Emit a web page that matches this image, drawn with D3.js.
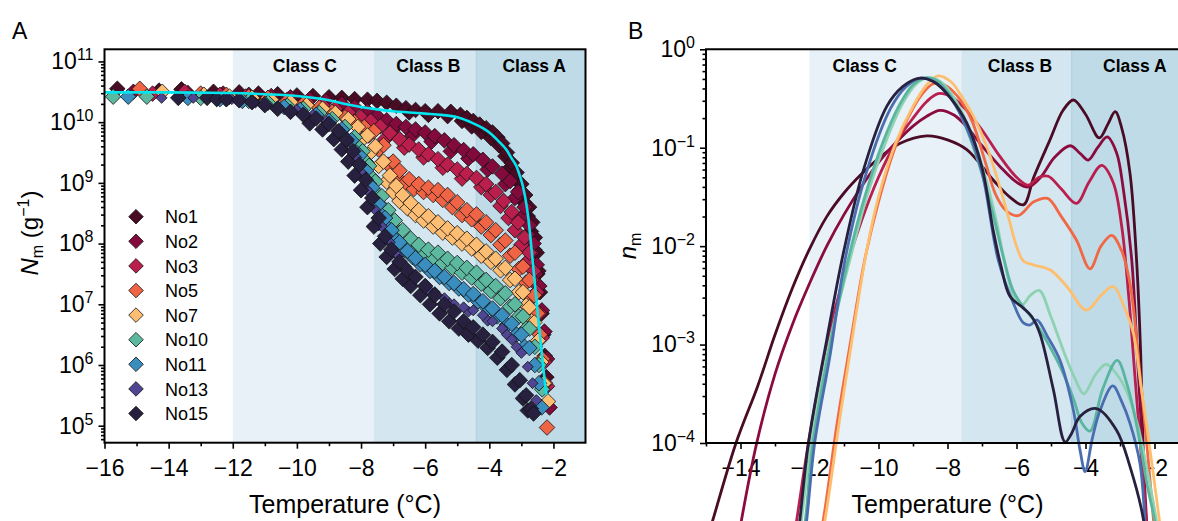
<!DOCTYPE html>
<html>
<head>
<meta charset="utf-8">
<script src="https://cdn.jsdelivr.net/npm/d3@7"></script>
<style>
  body { margin: 0; background: #fff; }
  svg { display: block; }
  text { font-family: Arial, "Liberation Sans", Helvetica, sans-serif; fill: #000; }
</style>
</head>
<body>
<svg id="chart" width="1178" height="521"></svg>
<script>
// ---------- data ----------
const seriesNames = ["No1", "No2", "No3", "No5", "No7", "No10", "No11", "No13", "No15"];
const markerColors = ["#4a0b25", "#820a3c", "#b91e4c", "#ef6445", "#fdbe74", "#5cb9a0", "#3a8dbf", "#4f4593", "#28203f"];
const lineColors = ["#4a0b25", "#8a0c3e", "#b91e4c", "#f06944", "#fdbf6f", "#8ed2b2", "#5ab5a0", "#4a6db0", "#27203f"];

const classNames = ["Class C", "Class B", "Class A"];
const classBounds = [[-12, -7.6], [-7.6, -4.4], [-4.4, -1]];

// panel A : [temperature, log10 Nm], first run
const nmNo1 = [[-15.6,10.55],[-14.3,10.52],[-13.6,10.54],[-12.6,10.5],[-11.8,10.49],[-11.2,10.47],[-10.6,10.46],[-10.0,10.44],[-9.5,10.43],[-9.0,10.41],[-8.6,10.4],[-8.2,10.38],[-7.8,10.37],[-7.5,10.35],[-7.2,10.32],[-6.9,10.27],[-6.6,10.23],[-6.3,10.2],[-6.0,10.18],[-5.6,10.18],[-5.2,10.17],[-4.9,10.12],[-4.7,10.07],[-4.5,10.02],[-4.3,9.96],[-4.1,9.9],[-3.9,9.83],[-3.75,9.75],[-3.6,9.65],[-3.45,9.5],[-3.3,9.33],[-3.15,9.17],[-3.0,8.98],[-2.88,8.8],[-2.76,8.6],[-2.66,8.35],[-2.58,8.1],[-2.52,7.85],[-2.47,7.55],[-2.42,7.2],[-2.37,6.85],[-2.32,6.5],[-2.27,6.15],[-2.22,5.8]];
const nmNo2 = [[-15.1,10.5],[-13.4,10.48],[-12.3,10.47],[-11.5,10.45],[-10.8,10.43],[-10.2,10.41],[-9.6,10.38],[-9.1,10.35],[-8.6,10.3],[-8.2,10.25],[-7.8,10.18],[-7.5,10.1],[-7.2,10.03],[-6.9,9.97],[-6.6,9.92],[-6.3,9.88],[-6.0,9.83],[-5.7,9.77],[-5.4,9.7],[-5.1,9.62],[-4.8,9.54],[-4.5,9.47],[-4.2,9.38],[-3.9,9.27],[-3.6,9.15],[-3.35,9.03],[-3.1,8.85],[-2.9,8.6],[-2.75,8.3],[-2.62,8.0],[-2.52,7.65],[-2.44,7.3],[-2.36,6.9],[-2.28,6.55],[-2.2,6.1],[-2.12,5.3]];
const nmNo3 = [[-14.5,10.47],[-13.5,10.5],[-12.4,10.45],[-11.6,10.42],[-10.9,10.4],[-10.3,10.37],[-9.7,10.33],[-9.2,10.28],[-8.8,10.22],[-8.4,10.16],[-8.0,10.08],[-7.7,10.02],[-7.4,9.93],[-7.1,9.82],[-6.8,9.72],[-6.5,9.63],[-6.2,9.55],[-5.9,9.47],[-5.6,9.39],[-5.3,9.3],[-5.0,9.22],[-4.7,9.15],[-4.4,9.08],[-4.1,8.98],[-3.8,8.85],[-3.55,8.7],[-3.3,8.52],[-3.1,8.35],[-2.9,8.1],[-2.75,7.85],[-2.62,7.55],[-2.52,7.2],[-2.44,6.85],[-2.36,6.45],[-2.28,6.05],[-2.2,5.65]];
const nmNo5 = [[-14.9,10.55],[-13.0,10.47],[-12.2,10.45],[-11.5,10.42],[-10.9,10.4],[-10.3,10.35],[-9.8,10.3],[-9.3,10.24],[-8.9,10.17],[-8.5,10.08],[-8.2,10.0],[-7.9,9.92],[-7.6,9.85],[-7.3,9.62],[-7.0,9.35],[-6.8,9.2],[-6.5,9.06],[-6.2,8.98],[-5.9,8.92],[-5.6,8.88],[-5.3,8.8],[-5.0,8.68],[-4.7,8.55],[-4.4,8.48],[-4.1,8.35],[-3.8,8.22],[-3.5,8.05],[-3.2,7.85],[-2.95,7.62],[-2.75,7.4],[-2.6,7.15],[-2.5,6.85],[-2.42,6.5],[-2.34,6.1],[-2.26,5.7],[-2.2,4.97]];
const nmNo7 = [[-14.2,10.5],[-12.9,10.45],[-12.1,10.42],[-11.4,10.4],[-10.8,10.37],[-10.2,10.33],[-9.7,10.28],[-9.2,10.22],[-8.8,10.15],[-8.4,10.05],[-8.1,9.92],[-7.8,9.78],[-7.55,9.6],[-7.3,9.35],[-7.1,9.12],[-6.9,8.95],[-6.7,8.8],[-6.45,8.67],[-6.2,8.55],[-5.9,8.45],[-5.6,8.35],[-5.3,8.25],[-5.0,8.17],[-4.7,8.08],[-4.4,7.98],[-4.1,7.87],[-3.8,7.75],[-3.5,7.6],[-3.2,7.42],[-2.95,7.2],[-2.75,6.95],[-2.6,6.7],[-2.48,6.4],[-2.38,6.05],[-2.3,5.7],[-2.17,5.4]];
const nmNo10 = [[-15.73,10.42],[-14.68,10.42],[-13.0,10.4],[-12.2,10.38],[-11.5,10.35],[-10.9,10.32],[-10.3,10.27],[-9.8,10.22],[-9.3,10.15],[-8.9,10.05],[-8.5,9.92],[-8.2,9.75],[-7.95,9.52],[-7.75,9.28],[-7.55,9.02],[-7.35,8.78],[-7.15,8.55],[-6.95,8.38],[-6.7,8.22],[-6.45,8.08],[-6.2,7.98],[-5.9,7.9],[-5.6,7.85],[-5.3,7.75],[-5.0,7.68],[-4.7,7.6],[-4.4,7.52],[-4.1,7.4],[-3.8,7.3],[-3.5,7.18],[-3.2,7.0],[-2.95,6.8],[-2.75,6.6],[-2.58,6.3],[-2.45,6.0],[-2.35,5.6]];
const nmNo11 = [[-15.26,10.42],[-13.4,10.4],[-12.4,10.38],[-11.7,10.35],[-11.0,10.3],[-10.4,10.25],[-9.9,10.2],[-9.4,10.12],[-9.0,10.02],[-8.6,9.88],[-8.3,9.7],[-8.05,9.45],[-7.85,9.2],[-7.65,8.92],[-7.45,8.65],[-7.25,8.42],[-7.05,8.22],[-6.8,8.02],[-6.55,7.88],[-6.3,7.76],[-6.0,7.65],[-5.7,7.55],[-5.4,7.45],[-5.1,7.35],[-4.8,7.25],[-4.5,7.17],[-4.2,7.05],[-3.9,6.93],[-3.6,6.82],[-3.3,6.68],[-3.0,6.5],[-2.75,6.28],[-2.58,6.0],[-2.45,5.7],[-2.37,5.3]];
const nmNo13 = [[-14.22,10.4],[-13.23,10.4],[-12.03,10.38],[-11.3,10.32],[-10.6,10.26],[-10.0,10.2],[-9.5,10.12],[-9.1,10.02],[-8.7,9.88],[-8.4,9.68],[-8.15,9.42],[-7.95,9.15],[-7.75,8.85],[-7.55,8.55],[-7.35,8.28],[-7.1,8.02],[-6.85,7.8],[-6.6,7.62],[-6.3,7.46],[-6.0,7.33],[-5.7,7.2],[-5.4,7.1],[-5.1,7.0],[-4.8,6.95],[-4.5,6.9],[-4.2,6.82],[-3.9,6.72],[-3.6,6.6],[-3.3,6.42],[-3.0,6.2],[-2.8,5.97],[-2.65,5.7],[-2.53,5.42]];
const nmNo15 = [[-13.7,10.4],[-12.8,10.4],[-12.5,10.38],[-12.2,10.38],[-11.8,10.36],[-11.4,10.33],[-11.0,10.28],[-10.6,10.22],[-10.2,10.17],[-9.8,10.12],[-9.4,10.06],[-9.0,9.97],[-8.7,9.85],[-8.45,9.71],[-8.25,9.52],[-8.05,9.3],[-7.85,9.05],[-7.65,8.75],[-7.45,8.42],[-7.25,8.12],[-7.05,7.9],[-6.8,7.7],[-6.55,7.55],[-6.3,7.45],[-6.0,7.3],[-5.7,7.15],[-5.4,7.0],[-5.1,6.88],[-4.8,6.72],[-4.5,6.62],[-4.2,6.5],[-3.9,6.38],[-3.6,6.22],[-3.3,6.0],[-3.05,5.75],[-2.85,5.5],[-2.7,5.28],[-2.62,5.2]];

// panel A : second run of each sample (decline part)
const nmNo1b = [[-6.5,10.16],[-5.9,10.12],[-5.3,10.1],[-4.85,10.02],[-4.55,9.93],[-4.25,9.84],[-3.95,9.74],[-3.7,9.62],[-3.5,9.44],[-3.35,9.25],[-3.2,9.07],[-3.05,8.88],[-2.92,8.68],[-2.8,8.45],[-2.7,8.2],[-2.6,7.9],[-2.5,7.5]];
const nmNo2b = [[-7.6,10.05],[-7.0,9.88],[-6.4,9.78],[-5.8,9.68],[-5.2,9.52],[-4.65,9.4],[-4.05,9.22],[-3.5,8.98],[-3.2,8.75],[-2.95,8.45],[-2.8,8.15],[-2.68,7.85],[-2.56,7.5]];
const nmNo3b = [[-8.2,10.02],[-7.85,9.9],[-7.25,9.72],[-6.65,9.58],[-6.05,9.42],[-5.45,9.25],[-4.85,9.07],[-4.25,8.93],[-3.95,8.8],[-3.65,8.62],[-3.4,8.42],[-3.2,8.22],[-3.0,7.98],[-2.82,7.7],[-2.68,7.4]];
const nmNo5b = [[-7.75,9.78],[-7.45,9.55],[-7.15,9.3],[-6.9,9.1],[-6.65,8.98],[-6.35,8.9],[-6.05,8.85],[-5.75,8.8],[-5.45,8.72],[-5.15,8.6],[-4.85,8.47],[-4.55,8.4],[-4.25,8.28],[-3.95,8.14],[-3.65,7.98],[-3.35,7.8],[-3.08,7.58],[-2.85,7.36],[-2.68,7.1]];
const nmNo7b = [[-7.95,9.72],[-7.7,9.5],[-7.45,9.28],[-7.2,9.02],[-7.0,8.85],[-6.8,8.7],[-6.55,8.58],[-6.3,8.47],[-6.05,8.38],[-5.75,8.28],[-5.45,8.18],[-5.15,8.1],[-4.85,8.0],[-4.55,7.92],[-4.25,7.8],[-3.95,7.7],[-3.65,7.56],[-3.35,7.4],[-3.08,7.2],[-2.85,6.98],[-2.68,6.72]];
const nmNo10b = [[-8.1,9.6],[-7.85,9.35],[-7.65,9.08],[-7.45,8.8],[-7.25,8.56],[-7.05,8.36],[-6.8,8.18],[-6.55,8.02],[-6.3,7.9],[-6.05,7.82],[-5.75,7.76],[-5.45,7.68],[-5.15,7.6],[-4.85,7.52],[-4.55,7.44],[-4.25,7.34],[-3.95,7.22],[-3.65,7.1],[-3.35,6.96],[-3.08,6.8],[-2.85,6.6]];
const nmNo11b = [[-8.45,9.72],[-8.15,9.5],[-7.95,9.25],[-7.75,8.98],[-7.55,8.7],[-7.35,8.46],[-7.15,8.25],[-6.9,8.05],[-6.65,7.9],[-6.4,7.78],[-6.15,7.66],[-5.85,7.55],[-5.55,7.45],[-5.25,7.35],[-4.95,7.26],[-4.65,7.16],[-4.35,7.05],[-4.05,6.93],[-3.75,6.8],[-3.45,6.66],[-3.15,6.5],[-2.9,6.3]];
const nmNo13b = [[-7.85,8.9],[-7.45,8.3],[-6.95,7.85],[-6.45,7.5],[-5.85,7.22],[-5.25,7.02],[-4.65,6.88],[-4.05,6.73],[-3.45,6.5],[-3.15,6.3]];
const nmNo15b = [[-9.6,9.98],[-9.2,9.88],[-8.85,9.72],[-8.6,9.55],[-8.4,9.35],[-8.2,9.12],[-8.0,8.88],[-7.8,8.6],[-7.6,8.28],[-7.4,8.0],[-7.2,7.78],[-6.95,7.58],[-6.7,7.42],[-6.45,7.3],[-6.15,7.15],[-5.85,7.0],[-5.55,6.85],[-5.25,6.72],[-4.95,6.6],[-4.65,6.5],[-4.35,6.4],[-4.05,6.28],[-3.75,6.12],[-3.45,5.92],[-3.2,5.68],[-2.95,5.45],[-2.8,5.25]];

const nmSeries = [
  [nmNo1, nmNo1b], [nmNo2, nmNo2b], [nmNo3, nmNo3b], [nmNo5, nmNo5b], [nmNo7, nmNo7b],
  [nmNo10, nmNo10b], [nmNo11, nmNo11b], [nmNo13, nmNo13b], [nmNo15, nmNo15b]
];

// cyan fit line in panel A
const fitT = [-16,-14,-12,-11,-10,-9,-8.5,-8,-7.5,-7,-6.5,-6,-5.5,-5,-4.5,-4.2,-3.98,-3.7,-3.46,-3.3,-3.15,-3.05,-2.95,-2.79,-2.63,-2.48,-2.32,-2.22];
const fitLog = [10.49,10.49,10.48,10.46,10.43,10.36,10.3,10.25,10.21,10.18,10.16,10.14,10.12,10.08,9.98,9.9,9.82,9.68,9.54,9.4,9.27,9.12,8.94,8.45,7.62,6.8,5.97,5.51];

// panel B : [temperature, log10 nm]
const nNo1 = [[-14.95,-4.95],[-14.8,-4.78],[-14.13,-4.0],[-13.5,-3.42],[-13.0,-2.9],[-12.5,-2.43],[-12.0,-2.03],[-11.5,-1.7],[-11.0,-1.46],[-10.5,-1.27],[-10.0,-1.11],[-9.4,-0.96],[-8.6,-0.88],[-8.0,-0.92],[-7.44,-1.02],[-6.67,-1.33],[-6.2,-1.5],[-5.8,-1.58],[-5.5,-1.3],[-5.03,-0.92],[-4.65,-0.62],[-4.35,-0.515],[-4.0,-0.66],[-3.6,-0.9],[-3.35,-0.76],[-3.14,-0.634],[-2.95,-0.8],[-2.71,-1.26],[-2.52,-2.14],[-2.4,-3.1],[-2.28,-4.78],[-2.25,-5.0]];
const nNo2 = [[-14.05,-4.95],[-13.97,-4.78],[-13.53,-4.0],[-13.0,-3.3],[-12.5,-2.8],[-12.0,-2.38],[-11.5,-2.0],[-11.0,-1.68],[-10.5,-1.4],[-10.0,-1.15],[-9.5,-0.95],[-9.0,-0.78],[-8.6,-0.68],[-8.22,-0.62],[-7.8,-0.67],[-7.44,-0.79],[-7.0,-0.98],[-6.48,-1.19],[-6.0,-1.35],[-5.66,-1.4],[-5.3,-1.3],[-4.9,-1.1],[-4.45,-0.98],[-4.15,-1.06],[-3.92,-1.125],[-3.65,-1.0],[-3.37,-0.89],[-3.1,-1.05],[-2.9,-1.43],[-2.66,-2.14],[-2.5,-3.1],[-2.23,-4.78],[-2.2,-5.0]];
const nNo3 = [[-12.45,-4.95],[-12.37,-4.78],[-12.03,-4.0],[-11.5,-3.0],[-11.0,-2.3],[-10.5,-1.75],[-10.0,-1.3],[-9.5,-0.95],[-9.0,-0.7],[-8.6,-0.53],[-8.27,-0.45],[-7.9,-0.48],[-7.5,-0.6],[-7.0,-0.82],[-6.5,-1.08],[-6.0,-1.3],[-5.66,-1.38],[-5.35,-1.3],[-5.08,-1.29],[-4.7,-1.42],[-4.26,-1.565],[-3.9,-1.35],[-3.53,-1.18],[-3.2,-1.35],[-2.95,-1.8],[-2.75,-2.5],[-2.55,-3.4],[-2.3,-4.5],[-2.2,-5.0]];
const nNo5 = [[-11.7,-4.95],[-11.6,-4.78],[-11.2,-3.8],[-10.8,-2.95],[-10.4,-2.14],[-10.0,-1.55],[-9.5,-0.98],[-9.0,-0.6],[-8.7,-0.44],[-8.41,-0.35],[-8.1,-0.36],[-7.7,-0.48],[-7.3,-0.72],[-6.9,-1.15],[-6.6,-1.48],[-6.3,-1.64],[-5.95,-1.69],[-5.5,-1.55],[-5.1,-1.515],[-4.7,-1.7],[-4.26,-1.94],[-3.87,-2.23],[-3.55,-2.0],[-3.24,-1.89],[-2.95,-2.05],[-2.7,-2.4],[-2.45,-3.2],[-2.2,-4.1],[-2.03,-4.78],[-1.98,-4.95]];
const nNo7 = [[-11.65,-4.95],[-11.55,-4.78],[-11.1,-3.7],[-10.7,-2.8],[-10.34,-2.04],[-10.0,-1.5],[-9.5,-0.95],[-9.0,-0.58],[-8.6,-0.36],[-8.27,-0.27],[-7.9,-0.33],[-7.55,-0.5],[-7.25,-0.68],[-6.85,-1.0],[-6.48,-1.4],[-6.2,-1.75],[-6.0,-2.0],[-5.8,-2.15],[-5.51,-2.19],[-5.03,-2.24],[-4.54,-2.41],[-3.97,-2.65],[-3.55,-2.5],[-3.19,-2.41],[-2.9,-2.6],[-2.61,-2.89],[-2.4,-3.4],[-2.18,-3.94],[-1.86,-4.78],[-1.8,-4.95]];
const nNo10 = [[-12.3,-4.95],[-12.23,-4.78],[-11.95,-4.0],[-11.4,-2.95],[-10.8,-2.1],[-10.3,-1.45],[-9.8,-0.95],[-9.3,-0.55],[-8.9,-0.35],[-8.6,-0.29],[-8.2,-0.33],[-7.8,-0.5],[-7.4,-0.78],[-7.0,-1.18],[-6.6,-1.72],[-6.38,-2.1],[-6.09,-2.5],[-5.85,-2.6],[-5.6,-2.5],[-5.34,-2.45],[-5.0,-2.72],[-4.6,-3.1],[-4.3,-3.35],[-4.05,-3.5],[-3.7,-3.3],[-3.4,-3.2],[-3.1,-3.3],[-2.8,-3.48],[-2.5,-3.8],[-2.2,-4.3],[-1.95,-4.78],[-1.9,-4.95]];
const nNo11 = [[-12.2,-4.95],[-12.12,-4.78],[-11.9,-4.0],[-11.4,-3.0],[-10.88,-2.14],[-10.4,-1.5],[-9.9,-0.97],[-9.4,-0.57],[-9.0,-0.36],[-8.65,-0.29],[-8.3,-0.32],[-7.9,-0.48],[-7.5,-0.76],[-7.1,-1.15],[-6.7,-1.65],[-6.36,-2.14],[-6.1,-2.45],[-5.8,-2.62],[-5.5,-2.75],[-5.1,-2.98],[-4.7,-3.25],[-4.35,-3.55],[-4.1,-3.8],[-3.87,-3.88],[-3.5,-3.45],[-3.08,-3.16],[-2.8,-3.4],[-2.5,-3.85],[-2.2,-4.45],[-2.0,-4.78],[-1.95,-4.95]];
const nNo13 = [[-12.15,-4.95],[-12.08,-4.78],[-11.85,-4.0],[-11.4,-3.1],[-10.97,-2.14],[-10.35,-1.25],[-9.65,-0.6],[-9.2,-0.38],[-8.75,-0.29],[-8.3,-0.35],[-7.9,-0.5],[-7.44,-0.8],[-7.0,-1.25],[-6.53,-2.14],[-6.09,-2.58],[-5.8,-2.78],[-5.6,-2.8],[-5.41,-2.75],[-5.1,-2.92],[-4.74,-3.16],[-4.35,-3.67],[-4.16,-4.07],[-4.01,-4.29],[-3.8,-3.95],[-3.58,-3.67],[-3.21,-3.42],[-2.95,-3.58],[-2.71,-3.8],[-2.42,-4.21],[-2.28,-4.78],[-2.25,-4.95]];
const nNo15 = [[-12.35,-4.95],[-12.28,-4.78],[-12.03,-4.0],[-11.5,-2.95],[-11.0,-2.04],[-10.44,-1.23],[-9.76,-0.58],[-9.3,-0.38],[-8.85,-0.295],[-8.4,-0.33],[-7.9,-0.5],[-7.44,-0.75],[-7.0,-1.2],[-6.67,-1.85],[-6.45,-2.2],[-6.19,-2.51],[-5.8,-2.63],[-5.55,-2.72],[-5.32,-2.89],[-4.93,-3.46],[-4.59,-3.99],[-4.4,-3.9],[-4.16,-3.73],[-3.68,-3.65],[-3.1,-3.87],[-2.71,-4.24],[-2.32,-4.78],[-2.28,-4.95]];
const nSeries = [nNo1, nNo2, nNo3, nNo5, nNo7, nNo10, nNo11, nNo13, nNo15];

// ---------- drawing ----------
const svg = d3.select("#chart");
const W = 1178;
const shadeFill = ["#e8f1f7", "#d4e6ef", "#bfdbe8"];

const xA = d3.scaleLinear().domain([-16, -1]).range([104.5, 585.5]);
const yA = d3.scaleLog().domain([Math.pow(10, 4.72), Math.pow(10, 11.2)]).range([442.7, 49.3]);
const xB = d3.scaleLinear().domain([-15, -1]).range([706, 1189]);
const yB = d3.scaleLog().domain([1e-4, 1]).range([443, 49.3]);

function shade(x, y) {
  const g = svg.append("g");
  const top = y.range()[1], bot = y.range()[0];
  classBounds.forEach((b, i) => {
    g.append("rect")
      .attr("x", x(b[0])).attr("y", top)
      .attr("width", x(b[1]) - x(b[0])).attr("height", bot - top)
      .attr("fill", shadeFill[i]);
  });
  g.append("line")
    .attr("x1", x(-4.4)).attr("x2", x(-4.4)).attr("y1", top).attr("y2", bot)
    .attr("stroke", "#b4d3e3").attr("stroke-width", 1.5);
}

function classLabels(x, pos) {
  classNames.forEach((c, i) => {
    svg.append("text")
      .attr("x", x(pos[i])).attr("y", 72)
      .attr("text-anchor", "middle")
      .attr("font-size", 17.5).attr("font-weight", "bold")
      .text(c);
  });
}

function logMinor(scale) {
  const [lo, hi] = scale.domain();
  const v = [];
  for (let e = Math.floor(Math.log10(lo)); e <= Math.ceil(Math.log10(hi)); e++)
    for (let k = 2; k < 10; k++) {
      const val = k * Math.pow(10, e);
      if (val >= lo && val <= hi) v.push(val);
    }
  return v;
}

function powLabels(g) {
  g.selectAll(".tick text").each(function(d) {
    const t = d3.select(this);
    const e = Math.round(Math.log10(d));
    t.text(null);
    t.append("tspan").text("10");
    t.append("tspan").attr("dy", "-9").attr("font-size", 16).text(e < 0 ? "\u2212" + (-e) : e);
  });
}

function styleAxis(g) {
  g.select(".domain").remove();
  g.selectAll(".tick line").attr("stroke", "#000").attr("stroke-width", 1.6);
  g.attr("font-family", null).attr("font-size", 23);
}

function axes(x, y, xMaj, xMin, yMaj) {
  const bot = y.range()[0], left = x.range()[0];
  const gx = svg.append("g").attr("transform", `translate(0,${bot})`)
    .call(d3.axisBottom(x).tickValues(xMaj).tickSize(6).tickPadding(11));
  styleAxis(gx);
  const gxm = svg.append("g").attr("transform", `translate(0,${bot})`)
    .call(d3.axisBottom(x).tickValues(xMin).tickSize(3.5).tickFormat(""));
  styleAxis(gxm);

  const gy = svg.append("g").attr("transform", `translate(${left},0)`)
    .call(d3.axisLeft(y).tickValues(yMaj).tickSize(6).tickPadding(5));
  styleAxis(gy);
  powLabels(gy);
  const gym = svg.append("g").attr("transform", `translate(${left},0)`)
    .call(d3.axisLeft(y).tickValues(logMinor(y)).tickSize(3.5).tickFormat(""));
  styleAxis(gym);
}

// ===== Panel A =====
shade(xA, yA);
classLabels(xA, [-9.75, -5.9, -2.6]);

const diamond = s => `M0,${-s}L${s},0L0,${s}L${-s},0Z`;
nmSeries.forEach((runs, i) => {
  const pts = runs[1].concat(runs[0]);
  svg.append("g").selectAll("path")
    .data(pts).enter().append("path")
      .attr("d", diamond(seriesNames[i] === "No13" ? 5.5 : 7.8))
      .attr("transform", d => `translate(${xA(d[0])},${yA(Math.pow(10, d[1]))})`)
      .attr("fill", markerColors[i])
      .attr("stroke", "#111").attr("stroke-width", 0.8);
});

const fitLine = d3.line()
  .x((d, i) => xA(fitT[i]))
  .y(d => yA(Math.pow(10, d)))
  .curve(d3.curveMonotoneX);
svg.append("path").datum(fitLog)
  .attr("d", fitLine)
  .attr("fill", "none").attr("stroke", "#00e5ee").attr("stroke-width", 2.6);

axes(xA, yA, [-16, -14, -12, -10, -8, -6, -4, -2], [-15, -13, -11, -9, -7, -5, -3],
  [1e5, 1e6, 1e7, 1e8, 1e9, 1e10, 1e11]);

svg.append("rect")
  .attr("x", xA.range()[0]).attr("y", yA.range()[1])
  .attr("width", xA.range()[1] - xA.range()[0]).attr("height", yA.range()[0] - yA.range()[1])
  .attr("fill", "none").attr("stroke", "#000").attr("stroke-width", 2);

// legend
const legend = svg.append("g");
seriesNames.forEach((n, i) => {
  const cy = 216.7 + i * 24.6;
  legend.append("path").attr("d", diamond(7.3))
    .attr("transform", `translate(136,${cy})`)
    .attr("fill", markerColors[i]).attr("stroke", "#111").attr("stroke-width", 0.8);
  legend.append("text").attr("x", 165).attr("y", cy + 6.6)
    .attr("font-size", 18).text(n);
});

// axis titles A
svg.append("text").attr("x", xA(-8.5)).attr("y", 513)
  .attr("text-anchor", "middle").attr("font-size", 25).text("Temperature (\u00B0C)");
const ylA = svg.append("text").attr("transform", "translate(38,233) rotate(-90)")
  .attr("text-anchor", "middle").attr("font-size", 24);
ylA.append("tspan").attr("font-style", "italic").text("N");
ylA.append("tspan").attr("font-size", 16).attr("dy", 5).text("m");
ylA.append("tspan").attr("dy", -5).text(" (g");
ylA.append("tspan").attr("font-size", 16).attr("dy", -9).text("\u22121");
ylA.append("tspan").attr("dy", 9).text(")");

svg.append("text").attr("x", 12).attr("y", 39).attr("font-size", 23).text("A");

// ===== Panel B =====
shade(xB, yB);
classLabels(xB, [-10.4, -5.9, -2.57]);

axes(xB, yB, [-14, -12, -10, -8, -6, -4, -2], [-15, -13, -11, -9, -7, -5, -3],
  [1e-4, 1e-3, 1e-2, 1e-1, 1]);

const lineB = d3.line()
  .x(d => xB(d[0]))
  .y(d => yB(Math.pow(10, d[1])))
  .curve(d3.curveCatmullRom.alpha(0.5));
nSeries.forEach((ser, i) => {
  svg.append("path").datum(ser)
    .attr("d", lineB)
    .attr("fill", "none").attr("stroke", lineColors[i])
    .attr("stroke-width", 2.8).attr("stroke-linejoin", "round");
});

// spines B (right spine lies outside the picture)
const bl = xB.range()[0], bt = yB.range()[1], bb = yB.range()[0];
svg.append("path")
  .attr("d", `M${W + 5},${bt}H${bl}V${bb}H${W + 5}`)
  .attr("fill", "none").attr("stroke", "#000").attr("stroke-width", 2);

svg.append("text").attr("x", xB(-8)).attr("y", 513)
  .attr("text-anchor", "middle").attr("font-size", 25).text("Temperature (\u00B0C)");
const ylB = svg.append("text").attr("transform", "translate(636,246) rotate(-90)")
  .attr("text-anchor", "middle").attr("font-size", 24);
ylB.append("tspan").attr("font-style", "italic").text("n");
ylB.append("tspan").attr("font-size", 16).attr("dy", 5).text("m");

svg.append("text").attr("x", 628).attr("y", 39).attr("font-size", 23).text("B");
</script>
</body>
</html>
